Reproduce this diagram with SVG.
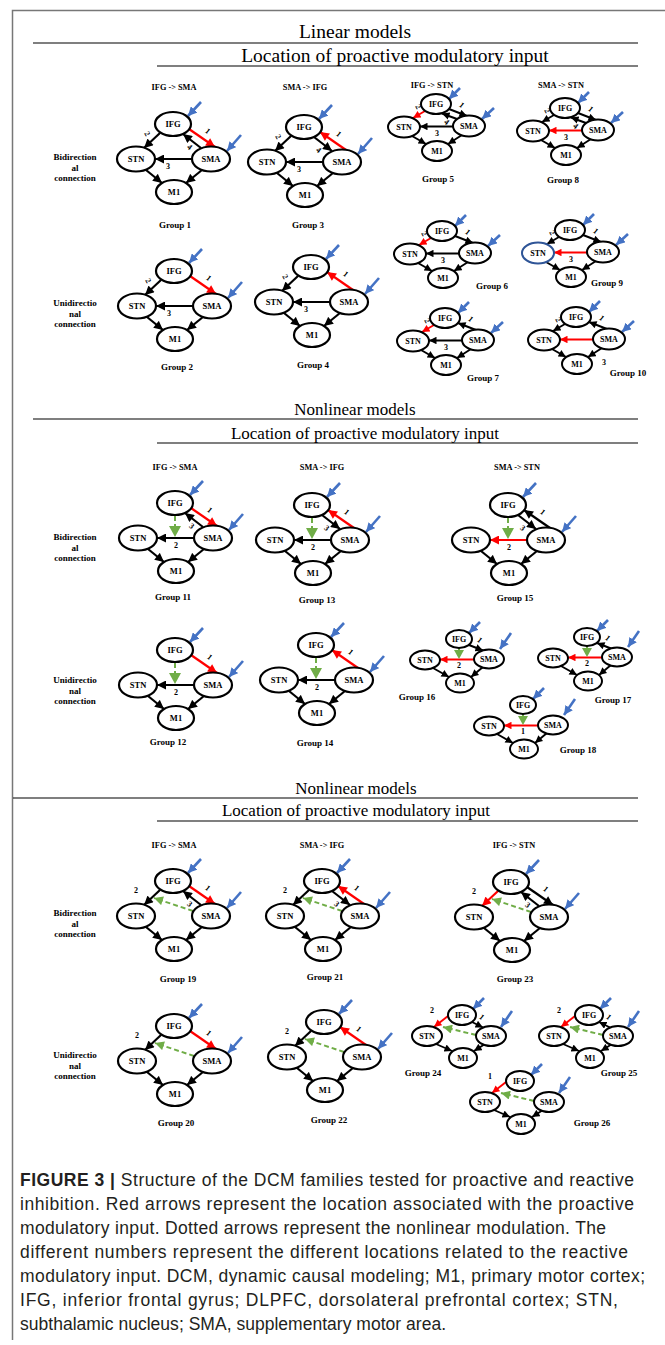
<svg xmlns="http://www.w3.org/2000/svg" width="665" height="1345" viewBox="0 0 665 1345">
<defs>
<style>
.e{fill:#fff;stroke:#000;stroke-width:2.2}
.es{fill:#fff;stroke:#000;stroke-width:2}
.nt{font-family:"Liberation Serif",serif;font-weight:bold;font-size:8.5px;text-anchor:middle}
.ns{font-family:"Liberation Serif",serif;font-weight:bold;font-size:8px;text-anchor:middle}
.lb{font-family:"Liberation Serif",serif;font-weight:bold;font-size:8px;text-anchor:middle}
.gl{font-family:"Liberation Serif",serif;font-weight:bold;font-size:9px;text-anchor:middle}
.hd{font-family:"Liberation Serif",serif;font-weight:bold;font-size:8.3px;text-anchor:middle}
.h1{font-family:"Liberation Serif",serif;font-size:17px;text-anchor:middle}
.h0{font-family:"Liberation Serif",serif;font-size:19.5px;text-anchor:middle}
.k{fill:none;stroke:#000;stroke-width:2.2;marker-end:url(#ak)}
.r{fill:none;stroke:#f00;stroke-width:2.2;marker-end:url(#ar)}
.ks{fill:none;stroke:#000;stroke-width:1.9;marker-end:url(#aks)}
.rs{fill:none;stroke:#f00;stroke-width:1.9;marker-end:url(#ars)}
.bl{fill:none;stroke:#4472c4;stroke-width:2.6;marker-end:url(#ab)}
.gd{fill:none;stroke:#70ad47;stroke-width:2;stroke-dasharray:5 3}
.ga{fill:none;stroke:#70ad47;stroke-width:2;stroke-dasharray:5 3;marker-end:url(#ag)}
.gt{fill:#70ad47}
.rule{stroke:#000;stroke-width:1.2}
.frame{stroke:#777;stroke-width:1.5;fill:none}
.cap{font-family:"Liberation Sans",Arial,sans-serif;font-size:17.5px;fill:#231f20}
</style>
<marker id="ak" viewBox="0 0 10 10" refX="10" refY="5" markerWidth="10" markerHeight="9" markerUnits="userSpaceOnUse" orient="auto"><path d="M0,0L10,5L0,10z" fill="#000"/></marker>
<marker id="ar" viewBox="0 0 10 10" refX="10" refY="5" markerWidth="10" markerHeight="9" markerUnits="userSpaceOnUse" orient="auto"><path d="M0,0L10,5L0,10z" fill="#f00"/></marker>
<marker id="aks" viewBox="0 0 10 10" refX="10" refY="5" markerWidth="8" markerHeight="7.5" markerUnits="userSpaceOnUse" orient="auto"><path d="M0,0L10,5L0,10z" fill="#000"/></marker>
<marker id="ars" viewBox="0 0 10 10" refX="10" refY="5" markerWidth="8" markerHeight="7.5" markerUnits="userSpaceOnUse" orient="auto"><path d="M0,0L10,5L0,10z" fill="#f00"/></marker>
<marker id="ab" viewBox="0 0 10 10" refX="10" refY="5" markerWidth="9" markerHeight="9" markerUnits="userSpaceOnUse" orient="auto"><path d="M0,0L10,5L0,10z" fill="#4472c4"/></marker>
<marker id="ag" viewBox="0 0 10 10" refX="10" refY="5" markerWidth="10" markerHeight="9" markerUnits="userSpaceOnUse" orient="auto"><path d="M0,0L10,5L0,10z" fill="#70ad47"/></marker>
</defs>
<rect width="665" height="1345" fill="#fff"/>
<path class="frame" d="M12.5,1340V10.5H665"/>

<!-- headings -->
<g id="headings">
<text class="h0" x="355" y="38">Linear models</text>
<line class="rule" x1="33" y1="43" x2="638" y2="43"/>
<text class="h0" x="395" y="62">Location of proactive modulatory input</text>
<line class="rule" x1="157" y1="66" x2="638" y2="66"/>
<text class="hd" x="174" y="90">IFG -&gt; SMA</text>
<text class="hd" x="305" y="90">SMA -&gt; IFG</text>
<text class="hd" x="432" y="88">IFG -&gt; STN</text>
<text class="hd" x="561" y="88">SMA -&gt; STN</text>
<text class="gl" x="75" y="160">Bidirection</text><text class="gl" x="75" y="170.5">al</text><text class="gl" x="75" y="181">connection</text>
<text class="gl" x="75" y="306">Unidirectio</text><text class="gl" x="75" y="316.5">nal</text><text class="gl" x="75" y="327">connection</text>

<text class="h1" x="355" y="415">Nonlinear models</text>
<line class="rule" x1="33" y1="419" x2="638" y2="419"/>
<text class="h1" x="365" y="439">Location of proactive modulatory input</text>
<line class="rule" x1="157" y1="443" x2="638" y2="443"/>
<text class="hd" x="175" y="470">IFG -&gt; SMA</text>
<text class="hd" x="322" y="470">SMA -&gt; IFG</text>
<text class="hd" x="517" y="470">SMA -&gt; STN</text>
<text class="gl" x="75" y="540">Bidirection</text><text class="gl" x="75" y="550.5">al</text><text class="gl" x="75" y="561">connection</text>
<text class="gl" x="75" y="683">Unidirectio</text><text class="gl" x="75" y="693.5">nal</text><text class="gl" x="75" y="704">connection</text>

<text class="h1" x="356" y="794">Nonlinear models</text>
<line class="rule" x1="13" y1="798" x2="638" y2="798"/>
<text class="h1" x="356" y="816">Location of proactive modulatory input</text>
<line class="rule" x1="157" y1="821" x2="638" y2="821"/>
<text class="hd" x="174" y="848">IFG -&gt; SMA</text>
<text class="hd" x="322" y="848">SMA -&gt; IFG</text>
<text class="hd" x="514" y="848">IFG -&gt; STN</text>
<text class="gl" x="75" y="916">Bidirection</text><text class="gl" x="75" y="926.5">al</text><text class="gl" x="75" y="937">connection</text>
<text class="gl" x="75" y="1058">Unidirectio</text><text class="gl" x="75" y="1068.5">nal</text><text class="gl" x="75" y="1079">connection</text>
</g>

<!-- group labels -->
<g id="group-labels" class="gl">
<text class="gl" x="175" y="228">Group 1</text>
<text class="gl" x="308" y="228">Group 3</text>
<text class="gl" x="177" y="370">Group 2</text>
<text class="gl" x="313" y="368">Group 4</text>
<text class="gl" x="438" y="182">Group 5</text>
<text class="gl" x="563" y="183">Group 8</text>
<text class="gl" x="492" y="289">Group 6</text>
<text class="gl" x="607" y="286">Group 9</text>
<text class="gl" x="483" y="381">Group 7</text>
<text class="gl" x="628" y="376">Group 10</text>
<text class="gl" x="173" y="600">Group 11</text>
<text class="gl" x="317" y="603">Group 13</text>
<text class="gl" x="515" y="601">Group 15</text>
<text class="gl" x="168" y="745">Group 12</text>
<text class="gl" x="315" y="746">Group 14</text>
<text class="gl" x="417" y="700">Group 16</text>
<text class="gl" x="613" y="703">Group 17</text>
<text class="gl" x="578" y="753">Group 18</text>
<text class="gl" x="178" y="982">Group 19</text>
<text class="gl" x="325" y="980">Group 21</text>
<text class="gl" x="515" y="982">Group 23</text>
<text class="gl" x="176" y="1126">Group 20</text>
<text class="gl" x="329" y="1123">Group 22</text>
<text class="gl" x="423" y="1076">Group 24</text>
<text class="gl" x="619" y="1076">Group 25</text>
<text class="gl" x="592" y="1126">Group 26</text>
</g>

<!-- ===== Section 1 large ===== -->
<g id="G1" transform="translate(173,124)">
<g id="G1-edges">
<path class="k" d="M-13,9L-29,24"/><path class="r" d="M16,5L42,23"/><path class="k" d="M28,24L10,10"/><path class="k" d="M19,35L-18,35"/><path class="k" d="M-27,46L-11,59"/><path class="k" d="M29,46L13,59"/><path class="bl" d="M28,-22L15,-8"/><path class="bl" d="M68,11L54,27"/>
<text class="lb" transform="translate(-28,11) rotate(60)">2</text><text class="lb" transform="translate(33,9) rotate(40)">1</text><text class="lb" transform="translate(15,25) rotate(40)">4</text><text class="lb" x="-5" y="45">3</text>
</g>
<g id="G1-IFG"><ellipse class="e" cx="0" cy="0" rx="18" ry="12"/><text class="nt" x="0" y="3">IFG</text></g>
<g id="G1-STN"><ellipse class="e" cx="-37" cy="35" rx="19" ry="12.5"/><text class="nt" x="-37" y="38">STN</text></g>
<g id="G1-SMA"><ellipse class="e" cx="38" cy="35" rx="19" ry="12.5"/><text class="nt" x="38" y="38">SMA</text></g>
<g id="G1-M1"><ellipse class="e" cx="1" cy="68" rx="18" ry="12"/><text class="nt" x="1" y="71">M1</text></g>
</g>

<g id="G3" transform="translate(304,127)">
<g id="G3-edges">
<path class="k" d="M-13,9L-29,24"/><path class="r" d="M42,23L16,5"/><path class="k" d="M10,10L28,24"/><path class="k" d="M19,35L-18,35"/><path class="k" d="M-27,46L-11,59"/><path class="k" d="M29,46L13,59"/><path class="bl" d="M28,-22L15,-8"/><path class="bl" d="M68,11L54,27"/>
<text class="lb" transform="translate(-28,11) rotate(60)">2</text><text class="lb" transform="translate(33,9) rotate(40)">1</text><text class="lb" transform="translate(13,25) rotate(40)">4</text><text class="lb" x="-5" y="45">3</text>
</g>
<g id="G3-IFG"><ellipse class="e" cx="0" cy="0" rx="18" ry="12"/><text class="nt" x="0" y="3">IFG</text></g>
<g id="G3-STN"><ellipse class="e" cx="-37" cy="35" rx="19" ry="12.5"/><text class="nt" x="-37" y="38">STN</text></g>
<g id="G3-SMA"><ellipse class="e" cx="38" cy="35" rx="19" ry="12.5"/><text class="nt" x="38" y="38">SMA</text></g>
<g id="G3-M1"><ellipse class="e" cx="1" cy="68" rx="18" ry="12"/><text class="nt" x="1" y="71">M1</text></g>
</g>

<g id="G2" transform="translate(174,271)">
<g id="G2-edges">
<path class="k" d="M-13,9L-29,24"/><path class="r" d="M16,5L42,23"/><path class="k" d="M19,35L-18,35"/><path class="k" d="M-27,46L-11,59"/><path class="k" d="M29,46L13,59"/><path class="bl" d="M28,-22L15,-8"/><path class="bl" d="M68,11L54,27"/>
<text class="lb" transform="translate(-28,11) rotate(60)">2</text><text class="lb" transform="translate(33,9) rotate(40)">1</text><text class="lb" x="-5" y="45">3</text>
</g>
<g id="G2-IFG"><ellipse class="e" cx="0" cy="0" rx="18" ry="12"/><text class="nt" x="0" y="3">IFG</text></g>
<g id="G2-STN"><ellipse class="e" cx="-37" cy="35" rx="19" ry="12.5"/><text class="nt" x="-37" y="38">STN</text></g>
<g id="G2-SMA"><ellipse class="e" cx="38" cy="35" rx="19" ry="12.5"/><text class="nt" x="38" y="38">SMA</text></g>
<g id="G2-M1"><ellipse class="e" cx="1" cy="68" rx="18" ry="12"/><text class="nt" x="1" y="71">M1</text></g>
</g>

<g id="G4" transform="translate(311,267)">
<g id="G4-edges">
<path class="k" d="M-13,9L-29,24"/><path class="r" d="M42,23L16,5"/><path class="k" d="M19,35L-18,35"/><path class="k" d="M-27,46L-11,59"/><path class="k" d="M29,46L13,59"/><path class="bl" d="M28,-22L15,-8"/><path class="bl" d="M68,11L54,27"/>
<text class="lb" transform="translate(-28,11) rotate(60)">2</text><text class="lb" transform="translate(33,9) rotate(40)">1</text><text class="lb" x="-5" y="45">3</text>
</g>
<g id="G4-IFG"><ellipse class="e" cx="0" cy="0" rx="18" ry="12"/><text class="nt" x="0" y="3">IFG</text></g>
<g id="G4-STN"><ellipse class="e" cx="-37" cy="35" rx="19" ry="12.5"/><text class="nt" x="-37" y="38">STN</text></g>
<g id="G4-SMA"><ellipse class="e" cx="38" cy="35" rx="19" ry="12.5"/><text class="nt" x="38" y="38">SMA</text></g>
<g id="G4-M1"><ellipse class="e" cx="1" cy="68" rx="18" ry="12"/><text class="nt" x="1" y="71">M1</text></g>
</g>

<!-- ===== Section 1 small ===== -->
<g id="G5" transform="translate(436,104)">
<g id="G5-edges">
<path class="rs" d="M-11,7L-23,14"/><path class="ks" d="M13,5L31,12"/><path class="ks" d="M21,15L6,9.5"/><path class="ks" d="M17,22.5L-16,22.5"/><path class="ks" d="M-24,32L-10,40"/><path class="ks" d="M26,31L12,40"/><path class="bl" d="M24,-16L13,-5"/><path class="bl" d="M58,4L46,15"/>
<text class="lb" transform="translate(-20,4) rotate(60)">2</text><text class="lb" transform="translate(24,3) rotate(40)">1</text><text class="lb" transform="translate(9,20) rotate(40)">4</text><text class="lb" x="1" y="32">3</text>
</g>
<g id="G5-IFG"><ellipse class="es" cx="0" cy="0" rx="15" ry="10"/><text class="ns" x="0" y="3">IFG</text></g>
<g id="G5-STN"><ellipse class="es" cx="-32" cy="23" rx="16" ry="10.5"/><text class="ns" x="-32" y="26">STN</text></g>
<g id="G5-SMA"><ellipse class="es" cx="33" cy="22" rx="16" ry="10.5"/><text class="ns" x="33" y="25">SMA</text></g>
<g id="G5-M1"><ellipse class="es" cx="1" cy="47" rx="15" ry="10"/><text class="ns" x="1" y="50">M1</text></g>
</g>

<g id="G8" transform="translate(565,108)">
<g id="G8-edges">
<path class="ks" d="M-11,7L-23,14"/><path class="ks" d="M13,5L31,12"/><path class="ks" d="M21,15L6,9.5"/><path class="rs" d="M17,22.5L-16,22.5"/><path class="ks" d="M-24,32L-10,40"/><path class="ks" d="M26,31L12,40"/><path class="bl" d="M24,-16L13,-5"/><path class="bl" d="M58,4L46,15"/>
<text class="lb" transform="translate(-20,4) rotate(60)">2</text><text class="lb" transform="translate(24,3) rotate(40)">1</text><text class="lb" transform="translate(9,20) rotate(40)">4</text><text class="lb" x="1" y="32">3</text>
</g>
<g id="G8-IFG"><ellipse class="es" cx="0" cy="0" rx="15" ry="10"/><text class="ns" x="0" y="3">IFG</text></g>
<g id="G8-STN"><ellipse class="es" cx="-32" cy="23" rx="16" ry="10.5"/><text class="ns" x="-32" y="26">STN</text></g>
<g id="G8-SMA"><ellipse class="es" cx="33" cy="22" rx="16" ry="10.5"/><text class="ns" x="33" y="25">SMA</text></g>
<g id="G8-M1"><ellipse class="es" cx="1" cy="47" rx="15" ry="10"/><text class="ns" x="1" y="50">M1</text></g>
</g>

<g id="G6" transform="translate(442,231)">
<g id="G6-edges">
<path class="rs" d="M-11,7L-23,14"/><path class="ks" d="M13,5L31,12"/><path class="ks" d="M17,22.5L-16,22.5"/><path class="ks" d="M-24,32L-10,40"/><path class="ks" d="M26,31L12,40"/><path class="bl" d="M24,-16L13,-5"/><path class="bl" d="M58,4L46,15"/>
<text class="lb" transform="translate(-20,4) rotate(60)">2</text><text class="lb" transform="translate(24,3) rotate(40)">1</text><text class="lb" x="1" y="32">3</text>
</g>
<g id="G6-IFG"><ellipse class="es" cx="0" cy="0" rx="15" ry="10"/><text class="ns" x="0" y="3">IFG</text></g>
<g id="G6-STN"><ellipse class="es" cx="-32" cy="23" rx="16" ry="10.5"/><text class="ns" x="-32" y="26">STN</text></g>
<g id="G6-SMA"><ellipse class="es" cx="33" cy="22" rx="16" ry="10.5"/><text class="ns" x="33" y="25">SMA</text></g>
<g id="G6-M1"><ellipse class="es" cx="1" cy="47" rx="15" ry="10"/><text class="ns" x="1" y="50">M1</text></g>
</g>

<g id="G9" transform="translate(570,230)">
<g id="G9-edges">
<path class="ks" d="M-11,7L-23,14"/><path class="ks" d="M13,5L31,12"/><path class="rs" d="M17,22.5L-16,22.5"/><path class="ks" d="M-24,32L-10,40"/><path class="ks" d="M26,31L12,40"/><path class="bl" d="M24,-16L13,-5"/><path class="bl" d="M58,4L46,15"/>
<text class="lb" transform="translate(-20,4) rotate(60)">2</text><text class="lb" transform="translate(24,3) rotate(40)">1</text><text class="lb" x="1" y="32">3</text>
</g>
<g id="G9-IFG"><ellipse class="es" cx="0" cy="0" rx="15" ry="10"/><text class="ns" x="0" y="3">IFG</text></g>
<g id="G9-STN"><ellipse class="es" cx="-32" cy="23" rx="16" ry="10.5" style="stroke:#2f5597"/><text class="ns" x="-32" y="26">STN</text></g>
<g id="G9-SMA"><ellipse class="es" cx="33" cy="22" rx="16" ry="10.5"/><text class="ns" x="33" y="25">SMA</text></g>
<g id="G9-M1"><ellipse class="es" cx="1" cy="47" rx="15" ry="10"/><text class="ns" x="1" y="50">M1</text></g>
</g>

<g id="G7" transform="translate(445,318)">
<g id="G7-edges">
<path class="rs" d="M-11,7L-23,14"/><path class="ks" d="M31,12L13,5"/><path class="ks" d="M17,22.5L-16,22.5"/><path class="ks" d="M-24,32L-10,40"/><path class="ks" d="M26,31L12,40"/><path class="bl" d="M24,-16L13,-5"/><path class="bl" d="M58,4L46,15"/>
<text class="lb" transform="translate(-20,4) rotate(60)">2</text><text class="lb" transform="translate(24,3) rotate(40)">1</text><text class="lb" x="1" y="32">3</text>
</g>
<g id="G7-IFG"><ellipse class="es" cx="0" cy="0" rx="15" ry="10"/><text class="ns" x="0" y="3">IFG</text></g>
<g id="G7-STN"><ellipse class="es" cx="-32" cy="23" rx="16" ry="10.5"/><text class="ns" x="-32" y="26">STN</text></g>
<g id="G7-SMA"><ellipse class="es" cx="33" cy="22" rx="16" ry="10.5"/><text class="ns" x="33" y="25">SMA</text></g>
<g id="G7-M1"><ellipse class="es" cx="1" cy="47" rx="15" ry="10"/><text class="ns" x="1" y="50">M1</text></g>
</g>

<g id="G10" transform="translate(576,317)">
<g id="G10-edges">
<path class="ks" d="M-11,7L-23,14"/><path class="ks" d="M31,12L13,5"/><path class="rs" d="M17,22.5L-16,22.5"/><path class="ks" d="M-24,32L-10,40"/><path class="ks" d="M26,31L12,40"/><path class="bl" d="M24,-16L13,-5"/><path class="bl" d="M58,4L46,15"/>
<text class="lb" transform="translate(-20,4) rotate(60)">2</text><text class="lb" transform="translate(24,3) rotate(40)">1</text><text class="lb" x="28" y="48">3</text>
</g>
<g id="G10-IFG"><ellipse class="es" cx="0" cy="0" rx="15" ry="10"/><text class="ns" x="0" y="3">IFG</text></g>
<g id="G10-STN"><ellipse class="es" cx="-32" cy="23" rx="16" ry="10.5"/><text class="ns" x="-32" y="26">STN</text></g>
<g id="G10-SMA"><ellipse class="es" cx="33" cy="22" rx="16" ry="10.5"/><text class="ns" x="33" y="25">SMA</text></g>
<g id="G10-M1"><ellipse class="es" cx="1" cy="47" rx="15" ry="10"/><text class="ns" x="1" y="50">M1</text></g>
</g>

<!-- ===== Section 2 ===== -->
<g id="G11" transform="translate(175,503)">
<g id="G11-edges">
<path class="r" d="M16,5L42,23"/><path class="k" d="M28,24L10,10"/><path class="k" d="M19,35L-18,35"/><path class="gd" d="M0,13V24"/><polygon class="gt" points="-6,23 6,23 0,34"/><path class="k" d="M-27,46L-11,59"/><path class="k" d="M29,46L13,59"/><path class="bl" d="M28,-22L15,-8"/><path class="bl" d="M68,11L54,27"/>
<text class="lb" transform="translate(33,9) rotate(40)">1</text><text class="lb" transform="translate(15,25) rotate(40)">3</text><text class="lb" x="1" y="45">2</text>
</g>
<g id="G11-IFG"><ellipse class="e" cx="0" cy="0" rx="18" ry="12"/><text class="nt" x="0" y="3">IFG</text></g>
<g id="G11-STN"><ellipse class="e" cx="-37" cy="35" rx="19" ry="12.5"/><text class="nt" x="-37" y="38">STN</text></g>
<g id="G11-SMA"><ellipse class="e" cx="38" cy="35" rx="19" ry="12.5"/><text class="nt" x="38" y="38">SMA</text></g>
<g id="G11-M1"><ellipse class="e" cx="1" cy="68" rx="18" ry="12"/><text class="nt" x="1" y="71">M1</text></g>
</g>

<g id="G13" transform="translate(312,505)">
<g id="G13-edges">
<path class="r" d="M42,23L16,5"/><path class="k" d="M10,10L28,24"/><path class="k" d="M19,35L-18,35"/><path class="gd" d="M0,13V24"/><polygon class="gt" points="-6,23 6,23 0,34"/><path class="k" d="M-27,46L-11,59"/><path class="k" d="M29,46L13,59"/><path class="bl" d="M28,-22L15,-8"/><path class="bl" d="M68,11L54,27"/>
<text class="lb" transform="translate(33,9) rotate(40)">1</text><text class="lb" transform="translate(13,25) rotate(40)">3</text><text class="lb" x="1" y="45">2</text>
</g>
<g id="G13-IFG"><ellipse class="e" cx="0" cy="0" rx="18" ry="12"/><text class="nt" x="0" y="3">IFG</text></g>
<g id="G13-STN"><ellipse class="e" cx="-37" cy="35" rx="19" ry="12.5"/><text class="nt" x="-37" y="38">STN</text></g>
<g id="G13-SMA"><ellipse class="e" cx="38" cy="35" rx="19" ry="12.5"/><text class="nt" x="38" y="38">SMA</text></g>
<g id="G13-M1"><ellipse class="e" cx="1" cy="68" rx="18" ry="12"/><text class="nt" x="1" y="71">M1</text></g>
</g>

<g id="G15" transform="translate(508,505)">
<g id="G15-edges">
<path class="k" d="M42,23L16,5"/><path class="k" d="M10,10L28,24"/><path class="r" d="M19,35L-18,35"/><path class="gd" d="M0,13V24"/><polygon class="gt" points="-6,23 6,23 0,34"/><path class="k" d="M-27,46L-11,59"/><path class="k" d="M29,46L13,59"/><path class="bl" d="M28,-22L15,-8"/><path class="bl" d="M68,11L54,27"/>
<text class="lb" transform="translate(33,9) rotate(40)">1</text><text class="lb" transform="translate(13,25) rotate(40)">3</text><text class="lb" x="1" y="45">2</text>
</g>
<g id="G15-IFG"><ellipse class="e" cx="0" cy="0" rx="18" ry="12"/><text class="nt" x="0" y="3">IFG</text></g>
<g id="G15-STN"><ellipse class="e" cx="-37" cy="35" rx="19" ry="12.5"/><text class="nt" x="-37" y="38">STN</text></g>
<g id="G15-SMA"><ellipse class="e" cx="38" cy="35" rx="19" ry="12.5"/><text class="nt" x="38" y="38">SMA</text></g>
<g id="G15-M1"><ellipse class="e" cx="1" cy="68" rx="18" ry="12"/><text class="nt" x="1" y="71">M1</text></g>
</g>

<g id="G12" transform="translate(175,650)">
<g id="G12-edges">
<path class="r" d="M16,5L42,23"/><path class="k" d="M19,35L-18,35"/><path class="gd" d="M0,13V24"/><polygon class="gt" points="-6,23 6,23 0,34"/><path class="k" d="M-27,46L-11,59"/><path class="k" d="M29,46L13,59"/><path class="bl" d="M28,-22L15,-8"/><path class="bl" d="M68,11L54,27"/>
<text class="lb" transform="translate(33,9) rotate(40)">1</text><text class="lb" x="1" y="45">2</text>
</g>
<g id="G12-IFG"><ellipse class="e" cx="0" cy="0" rx="18" ry="12"/><text class="nt" x="0" y="3">IFG</text></g>
<g id="G12-STN"><ellipse class="e" cx="-37" cy="35" rx="19" ry="12.5"/><text class="nt" x="-37" y="38">STN</text></g>
<g id="G12-SMA"><ellipse class="e" cx="38" cy="35" rx="19" ry="12.5"/><text class="nt" x="38" y="38">SMA</text></g>
<g id="G12-M1"><ellipse class="e" cx="1" cy="68" rx="18" ry="12"/><text class="nt" x="1" y="71">M1</text></g>
</g>

<g id="G14" transform="translate(316,645)">
<g id="G14-edges">
<path class="r" d="M42,23L16,5"/><path class="k" d="M19,35L-18,35"/><path class="gd" d="M0,13V24"/><polygon class="gt" points="-6,23 6,23 0,34"/><path class="k" d="M-27,46L-11,59"/><path class="k" d="M29,46L13,59"/><path class="bl" d="M28,-22L15,-8"/><path class="bl" d="M68,11L54,27"/>
<text class="lb" transform="translate(33,9) rotate(40)">1</text><text class="lb" x="1" y="45">2</text>
</g>
<g id="G14-IFG"><ellipse class="e" cx="0" cy="0" rx="18" ry="12"/><text class="nt" x="0" y="3">IFG</text></g>
<g id="G14-STN"><ellipse class="e" cx="-37" cy="35" rx="19" ry="12.5"/><text class="nt" x="-37" y="38">STN</text></g>
<g id="G14-SMA"><ellipse class="e" cx="38" cy="35" rx="19" ry="12.5"/><text class="nt" x="38" y="38">SMA</text></g>
<g id="G14-M1"><ellipse class="e" cx="1" cy="68" rx="18" ry="12"/><text class="nt" x="1" y="71">M1</text></g>
</g>

<g id="G16" transform="translate(459,639)">
<g id="G16-edges">
<path class="ks" d="M10,6L24,11.5"/><path class="rs" d="M15,20.5L-19,20.5"/><path class="gd" d="M0,9V12"/><polygon class="gt" points="-5,11 5,11 0,20"/><path class="ks" d="M-26,29L-10,38"/><path class="ks" d="M24,28L12,38"/><path class="bl" d="M21,-17L10,-6"/><path class="bl" d="M52,-6L41,10"/>
<text class="lb" transform="translate(19,3) rotate(40)">1</text><text class="lb" x="0" y="29">2</text>
</g>
<g id="G16-IFG"><ellipse class="es" cx="0" cy="0" rx="13" ry="9"/><text class="ns" x="0" y="3">IFG</text></g>
<g id="G16-STN"><ellipse class="es" cx="-34" cy="21" rx="15" ry="9.5"/><text class="ns" x="-34" y="24">STN</text></g>
<g id="G16-SMA"><ellipse class="es" cx="30" cy="20" rx="15" ry="9.5"/><text class="ns" x="30" y="23">SMA</text></g>
<g id="G16-M1"><ellipse class="es" cx="1" cy="44" rx="14" ry="9.5"/><text class="ns" x="1" y="47">M1</text></g>
</g>

<g id="G17" transform="translate(587,637)">
<g id="G17-edges">
<path class="ks" d="M24,11.5L10,6"/><path class="rs" d="M15,20.5L-19,20.5"/><path class="gd" d="M0,9V12"/><polygon class="gt" points="-5,11 5,11 0,20"/><path class="ks" d="M-26,29L-10,38"/><path class="ks" d="M24,28L12,38"/><path class="bl" d="M21,-17L10,-6"/><path class="bl" d="M52,-6L41,10"/>
<text class="lb" transform="translate(19,3) rotate(40)">1</text><text class="lb" x="0" y="29">2</text>
</g>
<g id="G17-IFG"><ellipse class="es" cx="0" cy="0" rx="13" ry="9"/><text class="ns" x="0" y="3">IFG</text></g>
<g id="G17-STN"><ellipse class="es" cx="-34" cy="21" rx="15" ry="9.5"/><text class="ns" x="-34" y="24">STN</text></g>
<g id="G17-SMA"><ellipse class="es" cx="30" cy="20" rx="15" ry="9.5"/><text class="ns" x="30" y="23">SMA</text></g>
<g id="G17-M1"><ellipse class="es" cx="1" cy="44" rx="14" ry="9.5"/><text class="ns" x="1" y="47">M1</text></g>
</g>

<g id="G18" transform="translate(523,705)">
<g id="G18-edges">
<path class="rs" d="M15,20.5L-19,20.5"/><path class="gd" d="M0,9V12"/><polygon class="gt" points="-5,11 5,11 0,20"/><path class="ks" d="M-26,29L-10,38"/><path class="ks" d="M24,28L12,38"/><path class="bl" d="M21,-17L10,-6"/><path class="bl" d="M52,-6L41,10"/>
<text class="lb" x="0" y="29">1</text>
</g>
<g id="G18-IFG"><ellipse class="es" cx="0" cy="0" rx="13" ry="9"/><text class="ns" x="0" y="3">IFG</text></g>
<g id="G18-STN"><ellipse class="es" cx="-34" cy="21" rx="15" ry="9.5"/><text class="ns" x="-34" y="24">STN</text></g>
<g id="G18-SMA"><ellipse class="es" cx="30" cy="20" rx="15" ry="9.5"/><text class="ns" x="30" y="23">SMA</text></g>
<g id="G18-M1"><ellipse class="es" cx="1" cy="44" rx="14" ry="9.5"/><text class="ns" x="1" y="47">M1</text></g>
</g>

<!-- ===== Section 3 ===== -->
<g id="G19" transform="translate(173,881)">
<g id="G19-edges">
<path class="k" d="M-13,9L-29,24"/><path class="r" d="M16,5L42,23"/><path class="k" d="M28,24L10,10"/><path class="ga" d="M20,30L-19,17"/><path class="k" d="M-27,46L-11,59"/><path class="k" d="M29,46L13,59"/><path class="bl" d="M28,-22L15,-8"/><path class="bl" d="M68,11L54,27"/>
<text class="lb" x="-37" y="12">2</text><text class="lb" transform="translate(33,9) rotate(40)">1</text><text class="lb" transform="translate(15,25) rotate(40)">3</text>
</g>
<g id="G19-IFG"><ellipse class="e" cx="0" cy="0" rx="18" ry="12"/><text class="nt" x="0" y="3">IFG</text></g>
<g id="G19-STN"><ellipse class="e" cx="-37" cy="35" rx="19" ry="12.5"/><text class="nt" x="-37" y="38">STN</text></g>
<g id="G19-SMA"><ellipse class="e" cx="38" cy="35" rx="19" ry="12.5"/><text class="nt" x="38" y="38">SMA</text></g>
<g id="G19-M1"><ellipse class="e" cx="1" cy="68" rx="18" ry="12"/><text class="nt" x="1" y="71">M1</text></g>
</g>

<g id="G21" transform="translate(322,881)">
<g id="G21-edges">
<path class="k" d="M-13,9L-29,24"/><path class="r" d="M42,23L16,5"/><path class="k" d="M10,10L28,24"/><path class="ga" d="M20,30L-19,17"/><path class="k" d="M-27,46L-11,59"/><path class="k" d="M29,46L13,59"/><path class="bl" d="M28,-22L15,-8"/><path class="bl" d="M68,11L54,27"/>
<text class="lb" x="-37" y="12">2</text><text class="lb" transform="translate(33,9) rotate(40)">1</text><text class="lb" transform="translate(13,25) rotate(40)">3</text>
</g>
<g id="G21-IFG"><ellipse class="e" cx="0" cy="0" rx="18" ry="12"/><text class="nt" x="0" y="3">IFG</text></g>
<g id="G21-STN"><ellipse class="e" cx="-37" cy="35" rx="19" ry="12.5"/><text class="nt" x="-37" y="38">STN</text></g>
<g id="G21-SMA"><ellipse class="e" cx="38" cy="35" rx="19" ry="12.5"/><text class="nt" x="38" y="38">SMA</text></g>
<g id="G21-M1"><ellipse class="e" cx="1" cy="68" rx="18" ry="12"/><text class="nt" x="1" y="71">M1</text></g>
</g>

<g id="G23" transform="translate(511,882)">
<g id="G23-edges">
<path class="r" d="M-13,9L-29,24"/><path class="k" d="M16,5L42,23"/><path class="k" d="M28,24L10,10"/><path class="ga" d="M20,30L-19,17"/><path class="k" d="M-27,46L-11,59"/><path class="k" d="M29,46L13,59"/><path class="bl" d="M28,-22L15,-8"/><path class="bl" d="M68,11L54,27"/>
<text class="lb" x="-37" y="12">2</text><text class="lb" transform="translate(33,9) rotate(40)">1</text><text class="lb" transform="translate(15,25) rotate(40)">3</text>
</g>
<g id="G23-IFG"><ellipse class="e" cx="0" cy="0" rx="18" ry="12"/><text class="nt" x="0" y="3">IFG</text></g>
<g id="G23-STN"><ellipse class="e" cx="-37" cy="35" rx="19" ry="12.5"/><text class="nt" x="-37" y="38">STN</text></g>
<g id="G23-SMA"><ellipse class="e" cx="38" cy="35" rx="19" ry="12.5"/><text class="nt" x="38" y="38">SMA</text></g>
<g id="G23-M1"><ellipse class="e" cx="1" cy="68" rx="18" ry="12"/><text class="nt" x="1" y="71">M1</text></g>
</g>

<g id="G20" transform="translate(174,1026)">
<g id="G20-edges">
<path class="k" d="M-13,9L-29,24"/><path class="r" d="M16,5L42,23"/><path class="ga" d="M20,30L-19,17"/><path class="k" d="M-27,46L-11,59"/><path class="k" d="M29,46L13,59"/><path class="bl" d="M28,-22L15,-8"/><path class="bl" d="M68,11L54,27"/>
<text class="lb" x="-37" y="12">2</text><text class="lb" transform="translate(33,9) rotate(40)">1</text>
</g>
<g id="G20-IFG"><ellipse class="e" cx="0" cy="0" rx="18" ry="12"/><text class="nt" x="0" y="3">IFG</text></g>
<g id="G20-STN"><ellipse class="e" cx="-37" cy="35" rx="19" ry="12.5"/><text class="nt" x="-37" y="38">STN</text></g>
<g id="G20-SMA"><ellipse class="e" cx="38" cy="35" rx="19" ry="12.5"/><text class="nt" x="38" y="38">SMA</text></g>
<g id="G20-M1"><ellipse class="e" cx="1" cy="68" rx="18" ry="12"/><text class="nt" x="1" y="71">M1</text></g>
</g>

<g id="G22" transform="translate(324,1022)">
<g id="G22-edges">
<path class="k" d="M-13,9L-29,24"/><path class="r" d="M42,23L16,5"/><path class="ga" d="M20,30L-19,17"/><path class="k" d="M-27,46L-11,59"/><path class="k" d="M29,46L13,59"/><path class="bl" d="M28,-22L15,-8"/><path class="bl" d="M68,11L54,27"/>
<text class="lb" x="-37" y="12">2</text><text class="lb" transform="translate(33,9) rotate(40)">1</text>
</g>
<g id="G22-IFG"><ellipse class="e" cx="0" cy="0" rx="18" ry="12"/><text class="nt" x="0" y="3">IFG</text></g>
<g id="G22-STN"><ellipse class="e" cx="-37" cy="35" rx="19" ry="12.5"/><text class="nt" x="-37" y="38">STN</text></g>
<g id="G22-SMA"><ellipse class="e" cx="38" cy="35" rx="19" ry="12.5"/><text class="nt" x="38" y="38">SMA</text></g>
<g id="G22-M1"><ellipse class="e" cx="1" cy="68" rx="18" ry="12"/><text class="nt" x="1" y="71">M1</text></g>
</g>

<g id="G24" transform="translate(462,1015)">
<g id="G24-edges">
<path class="rs" d="M-14,1L-28,12"/><path class="ks" d="M10,7L21,12.5"/><path class="ga" d="M14,20L-19,12"/><path class="ks" d="M-26,29L-10,36"/><path class="ks" d="M23,29L12,36"/><path class="bl" d="M22,-17L11,-6"/><path class="bl" d="M50,-4L39,12"/>
<text class="lb" x="-30" y="-2">2</text><text class="lb" transform="translate(18,4) rotate(40)">1</text>
</g>
<g id="G24-IFG"><ellipse class="es" cx="0" cy="0" rx="14" ry="10"/><text class="ns" x="0" y="3">IFG</text></g>
<g id="G24-STN"><ellipse class="es" cx="-35" cy="21" rx="15" ry="10"/><text class="ns" x="-35" y="24">STN</text></g>
<g id="G24-SMA"><ellipse class="es" cx="29" cy="21" rx="15" ry="10"/><text class="ns" x="29" y="24">SMA</text></g>
<g id="G24-M1"><ellipse class="es" cx="1" cy="43" rx="14" ry="10"/><text class="ns" x="1" y="46">M1</text></g>
</g>

<g id="G25" transform="translate(589,1015)">
<g id="G25-edges">
<path class="rs" d="M-14,1L-28,12"/><path class="ks" d="M21,12.5L10,7"/><path class="ga" d="M14,20L-19,12"/><path class="ks" d="M-26,29L-10,36"/><path class="ks" d="M23,29L12,36"/><path class="bl" d="M22,-17L11,-6"/><path class="bl" d="M50,-4L39,12"/>
<text class="lb" x="-30" y="-2">2</text><text class="lb" transform="translate(18,4) rotate(40)">1</text>
</g>
<g id="G25-IFG"><ellipse class="es" cx="0" cy="0" rx="14" ry="10"/><text class="ns" x="0" y="3">IFG</text></g>
<g id="G25-STN"><ellipse class="es" cx="-35" cy="21" rx="15" ry="10"/><text class="ns" x="-35" y="24">STN</text></g>
<g id="G25-SMA"><ellipse class="es" cx="29" cy="21" rx="15" ry="10"/><text class="ns" x="29" y="24">SMA</text></g>
<g id="G25-M1"><ellipse class="es" cx="1" cy="43" rx="14" ry="10"/><text class="ns" x="1" y="46">M1</text></g>
</g>

<g id="G26" transform="translate(520,1081)">
<g id="G26-edges">
<path class="rs" d="M-14,1L-28,12"/><path class="ga" d="M14,20L-19,12"/><path class="ks" d="M-26,29L-10,36"/><path class="ks" d="M23,29L12,36"/><path class="bl" d="M22,-17L11,-6"/><path class="bl" d="M50,-4L39,12"/>
<text class="lb" x="-30" y="-2">1</text>
</g>
<g id="G26-IFG"><ellipse class="es" cx="0" cy="0" rx="14" ry="10"/><text class="ns" x="0" y="3">IFG</text></g>
<g id="G26-STN"><ellipse class="es" cx="-35" cy="21" rx="15" ry="10"/><text class="ns" x="-35" y="24">STN</text></g>
<g id="G26-SMA"><ellipse class="es" cx="29" cy="21" rx="15" ry="10"/><text class="ns" x="29" y="24">SMA</text></g>
<g id="G26-M1"><ellipse class="es" cx="1" cy="43" rx="14" ry="10"/><text class="ns" x="1" y="46">M1</text></g>
</g>

<!-- caption -->
<g id="caption" class="cap">
<text class="cap" x="20" y="1186" textLength="614" lengthAdjust="spacing"><tspan font-weight="bold">FIGURE 3 |</tspan> Structure of the DCM families tested for proactive and reactive</text>
<text class="cap" x="20" y="1210" textLength="614" lengthAdjust="spacing">inhibition. Red arrows represent the location associated with the proactive</text>
<text class="cap" x="20" y="1234" textLength="586" lengthAdjust="spacing">modulatory input. Dotted arrows represent the nonlinear modulation. The</text>
<text class="cap" x="20" y="1258" textLength="608" lengthAdjust="spacing">different numbers represent the different locations related to the reactive</text>
<text class="cap" x="20" y="1282" textLength="625" lengthAdjust="spacing">modulatory input. DCM, dynamic causal modeling; M1, primary motor cortex;</text>
<text class="cap" x="20" y="1306" textLength="598" lengthAdjust="spacing">IFG, inferior frontal gyrus; DLPFC, dorsolateral prefrontal cortex; STN,</text>
<text class="cap" x="20" y="1330" textLength="426" lengthAdjust="spacing">subthalamic nucleus; SMA, supplementary motor area.</text>
</g>
</svg>
